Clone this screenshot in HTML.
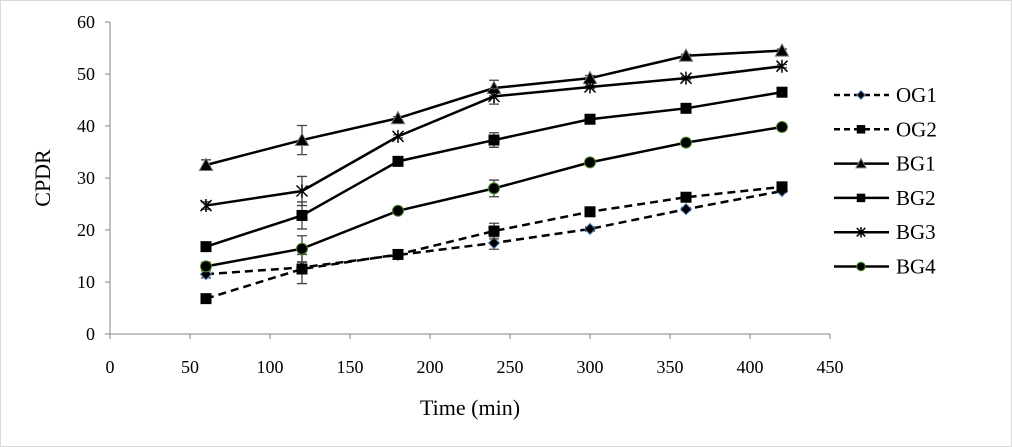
<!DOCTYPE html>
<html><head><meta charset="utf-8"><style>
body{margin:0;background:#fff}
svg{display:block}
text{font-family:"Liberation Serif",serif;fill:#000}
</style></head><body>
<svg id="c" width="1012" height="447">
<rect x="0.5" y="0.5" width="1011" height="446" fill="#fff" stroke="#d9d9d9"/>
<g id="axes"></g><g id="plot"></g><g id="legend"></g>
<text x="470" y="415" font-size="22" text-anchor="middle">Time (min)</text>
<text transform="translate(50,178) rotate(-90)" font-size="22" text-anchor="middle">CPDR</text>
</svg>
<script>
const times=[60,120,180,240,300,360,420];
const seriesNames=["OG1","OG2","BG1","BG2","BG3","BG4"];
const og1=[11.5,12.8,15.2,17.5,20.2,24,27.5];
const og2=[6.8,12.5,15.3,19.8,23.5,26.3,28.3];
const bg1=[32.5,37.3,41.5,47.3,49.2,53.5,54.5];
const bg2=[16.8,22.8,33.2,37.3,41.3,43.4,46.5];
const bg3=[24.7,27.5,38,45.7,47.5,49.2,51.5];
const bg4=[13,16.4,23.7,28,33,36.8,39.8];
const og1Err=[0.7,1,0.3,1.2,0.4,0.3,0.3];
const og2Err=[0.4,2.8,0.3,1.5,0.4,0.3,0.3];
const bg1Err=[1,2.8,0.3,1.5,0.5,0.3,0.3];
const bg2Err=[0.6,2.6,0.3,1.4,0.3,0.3,0.3];
const bg3Err=[0.7,2.8,0.3,1.5,0.3,0.3,0.3];
const bg4Err=[0.8,2.5,0.3,1.6,0.3,0.3,0.3];
const xTicks=[0,50,100,150,200,250,300,350,400,450];
const yTicks=[0,10,20,30,40,50,60];
const NS="http://www.w3.org/2000/svg";
const X=v=>110+v*1.6, Y=v=>334-v*5.2;
function mk(t,a,p){const e=document.createElementNS(NS,t);for(const k in a)e.setAttribute(k,a[k]);(p||document.getElementById('plot')).appendChild(e);return e;}
const ax=document.getElementById('axes');
let e=mk('line',{x1:X(0),y1:Y(0),x2:X(450),y2:Y(0),stroke:'#868686','stroke-width':1},ax);

e=mk('line',{x1:X(0),y1:Y(0),x2:X(0),y2:Y(60),stroke:'#868686','stroke-width':1},ax);

xTicks.forEach(v=>{mk('line',{x1:X(v),y1:Y(0),x2:X(v),y2:Y(0)+5,stroke:'#868686'},ax);
 const t=mk('text',{x:X(v),y:373,'font-size':18,'text-anchor':'middle'},ax);t.textContent=v;
 });
yTicks.forEach(v=>{mk('line',{x1:X(0)-5,y1:Y(v),x2:X(0),y2:Y(v),stroke:'#868686'},ax);
 const t=mk('text',{x:95,y:Y(v)+6,'font-size':18,'text-anchor':'end'},ax);t.textContent=v;
 });
const defs=[[og1,og1Err,'diamond',true],[og2,og2Err,'square',true],[bg1,bg1Err,'triangle',false],[bg2,bg2Err,'square',false],[bg3,bg3Err,'star',false],[bg4,bg4Err,'circle',false]];
function marker(kind,x,y,g,big){
 const s=big?1.1:0.85;
 if(kind==='diamond')mk('polygon',{points:`${x},${y-5*s} ${x+5*s},${y} ${x},${y+5*s} ${x-5*s},${y}`,fill:'#000',stroke:'#4f81bd','stroke-width':1},g);
 else if(kind==='square')mk('rect',{x:x-5*s,y:y-5*s,width:10*s,height:10*s,fill:'#000'},g);
 else if(kind==='triangle')mk('polygon',{points:`${x},${y-6*s} ${x+6*s},${y+5*s} ${x-6*s},${y+5*s}`,fill:'#000',stroke:'#777','stroke-width':1},g);
 else if(kind==='circle')mk('circle',{cx:x,cy:y,r:5*s,fill:'#000',stroke:'#4e8a2a','stroke-width':1},g);
 else{const r=5*s;mk('path',{d:`M${x-r},${y-r}L${x+r},${y+r}M${x-r},${y+r}L${x+r},${y-r}M${x},${y-r-1}L${x},${y+r+1}`,stroke:'#000','stroke-width':1.5},g);}
}
defs.forEach((d,i)=>{
 const g=mk('g',{});
 
 
 d[0].forEach((v,j)=>{const x=X(times[j]),a=Y(v+d[1][j]),b=Y(v-d[1][j]);
  mk('path',{d:`M${x},${a}L${x},${b}M${x-5},${a}L${x+5},${a}M${x-5},${b}L${x+5},${b}`,stroke:'#444','stroke-width':1.3},g);});
 const pl=mk('polyline',{points:d[0].map((v,j)=>X(times[j])+','+Y(v)).join(' '),fill:'none',stroke:'#000','stroke-width':2.5,'stroke-dasharray':d[3]?'8,5':'none'},g);
 
 
 d[0].forEach((v,j)=>marker(d[2],X(times[j]),Y(v),g,true));
 const lg=document.getElementById('legend');
 const le=mk('g',{},lg);
 
 
 const ly=95+i*34.3;
 mk('line',{x1:834,y1:ly,x2:889,y2:ly,stroke:'#000','stroke-width':2.5,'stroke-dasharray':d[3]?'6,4':'none'},le);
 marker(d[2],861,ly,le,false);
 const t=mk('text',{x:896,y:ly+7,'font-size':21},le);t.textContent=seriesNames[i];
});
</script>
</body></html>
